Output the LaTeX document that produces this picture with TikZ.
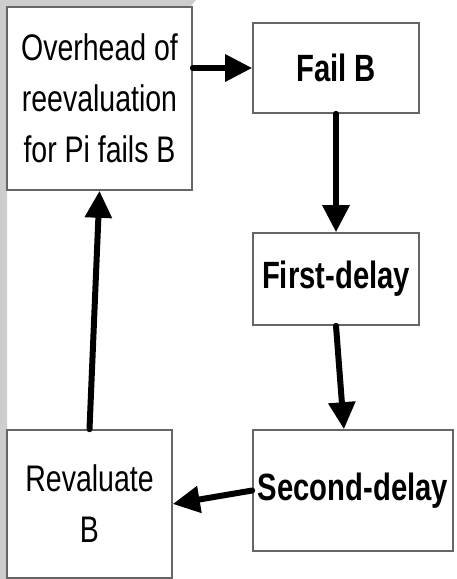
\documentclass[tikz,border=0pt]{standalone}
\usepackage{fontspec}
\setmainfont{Liberation Sans}
\usetikzlibrary{arrows.meta,calc}
\definecolor{edgegrey}{HTML}{666666}
\definecolor{bandgrey}{HTML}{CDCDCD}
\newcommand{\nar}[1]{\scalebox{0.77}[1]{#1}}
\begin{document}
\begin{tikzpicture}[x=1pt,y=-1pt,
  box/.style={draw=edgegrey,line width=1.6pt,fill=white,inner sep=0pt,
    align=center,font=\fontsize{37}{51}\selectfont},
  boldbox/.style={box,font=\fontsize{38}{51}\selectfont\bfseries},
  flow/.style={line width=6pt,line cap=round,
    -{Triangle[length=27pt,width=26pt]}}]
\useasboundingbox (0,0) rectangle (456,579);
\fill[white] (0,0) rectangle (456,579);
% grey band along the top-left edge
\fill[bandgrey] (0,0) -- (196,0) -- (190,7) -- (7,7) -- (7,579) -- (0,579) -- cycle;

\node[box,minimum width=185pt,minimum height=183pt] (over) at (99.5,98.5)
  {\nar{Overhead of}\\\nar{reevaluation}\\\nar{for Pi fails B}};
\node[boldbox,minimum width=166pt,minimum height=90pt] (fail) at (336,68)
  {\nar{Fail B}};
\node[boldbox,minimum width=166pt,minimum height=92pt] (first) at (336,279)
  {\nar{First-delay}};
\node[boldbox,minimum width=200pt,minimum height=121pt] (second) at (353,490.5)
  {\nar{Second-delay}};
\node[box,minimum width=165pt,minimum height=148pt] (reval) at (89.5,504)
  {\nar{Revaluate}\\\nar{B}};

\coordinate (secondin) at ($(second.north west)!0.455!(second.north east)$);

\draw[flow] (fail.west -| over.east) -- (fail.west);
\draw[flow] (fail.south) -- (first.north);
\draw[flow] (first.south) -- (secondin);
\draw[flow] (second.west) -- (reval.east);
\draw[flow] (reval.north) -- (over.south);
\end{tikzpicture}
\end{document}
